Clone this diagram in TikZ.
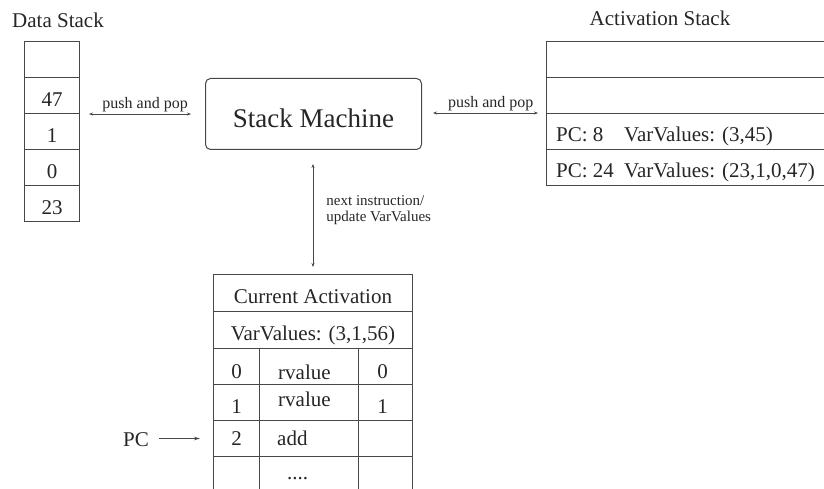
\documentclass[tikz,border=0pt]{standalone}
\usepackage{fontspec}
\setmainfont{Liberation Serif}
\usetikzlibrary{arrows.meta}

\begin{document}
\begin{tikzpicture}[x=1pt, y=-1pt,
  ink/.style={draw=black!72, line width=1pt},
  txt/.style={text=black!85, inner sep=0pt, font=\fontsize{21}{25}\selectfont},
  cell/.style={ink, txt, rectangle, anchor=north west, text height=22pt, text depth=0pt},
  rowcell/.style={ink, rectangle, inner sep=0pt, anchor=north west},
  machine/.style={ink, rectangle, rounded corners=5pt, inner sep=0pt, anchor=north west,
    minimum width=216pt, minimum height=71pt, text=black!85,
    font=\fontsize{27}{32}\selectfont, text height=27pt, text depth=0pt},
  small/.style={text=black!85, inner sep=0pt, font=\fontsize{16}{18}\selectfont},
  tiny/.style={text=black!85, inner sep=0pt, font=\fontsize{15}{16}\selectfont, align=left},
  tipS/.tip={Stealth[length=4pt, width=3pt]},
  both/.style={draw=black!72, line width=0.9pt, tipS-tipS},
  pcarrow/.style={draw=black!72, line width=0.9pt, -{Stealth[length=6pt, width=3.5pt]}}
]
\useasboundingbox (0,0) rectangle (824,489);

% ---- data stack ----
\node[txt, anchor=base west] (dstitle) at (12,28) {Data Stack};
\node[cell, minimum width=55pt, minimum height=36pt] (d0) at (24,41)  {};
\node[cell, minimum width=55pt, minimum height=36pt] (d1) at (24,77)  {47};
\node[cell, minimum width=55pt, minimum height=36pt] (d2) at (24,113) {1};
\node[cell, minimum width=55pt, minimum height=36pt] (d3) at (24,149) {0};
\node[cell, minimum width=55pt, minimum height=36pt] (d4) at (24,185) {23};

% ---- stack machine ----
\node[machine] (sm) at (205,78) {Stack Machine};

% ---- activation stack ----
\node[txt, anchor=base] (astitle) at (660,26) {Activation Stack};
\node[rowcell, minimum width=290pt, minimum height=36pt] (a0) at (546,41)  {};
\node[rowcell, minimum width=290pt, minimum height=36pt] (a1) at (546,77)  {};
\node[rowcell, minimum width=290pt, minimum height=36pt] (a2) at (546,113) {};
\node[rowcell, minimum width=290pt, minimum height=36pt] (a3) at (546,149) {};
\node[txt, anchor=base west] (a2pc) at ([xshift=10pt, yshift=-10.5pt]a2.west) {PC: 8};
\node[txt, anchor=base west] (a2vv) at ([xshift=78pt, yshift=-10.5pt]a2.west) {VarValues: (3,45)};
\node[txt, anchor=base west] (a3pc) at ([xshift=10pt, yshift=-10pt]a3.west) {PC: 24};
\node[txt, anchor=base west] (a3vv) at ([xshift=78pt, yshift=-10pt]a3.west) {VarValues: (23,1,0,47)};

% ---- current activation ----
\node[cell, minimum width=199pt, minimum height=37pt, text height=21pt] (cah) at (213,274) {Current Activation};
\node[cell, minimum width=199pt, minimum height=37pt, text height=21pt] (cav) at (213,311) {VarValues: (3,1,56)};

\foreach \r/\y/\h in {0/348/36, 1/384/36, 2/420/36, 3/456/44} {
  \node[rowcell, minimum width=46pt, minimum height=\h pt] (c\r a) at (213,\y) {};
  \node[rowcell, minimum width=99pt, minimum height=\h pt] (c\r b) at (259,\y) {};
  \node[rowcell, minimum width=54pt, minimum height=\h pt] (c\r c) at (358,\y) {};
}

\node[txt, anchor=base] (n0a) at ([yshift=-11.5pt]c0a.center) {0};
\node[txt, anchor=base west] (n0b) at ([xshift=19pt, yshift=-13pt]c0b.west) {rvalue};
\node[txt, anchor=base] (n0c) at ([xshift=-3pt, yshift=-11.5pt]c0c.center) {0};

\node[txt, anchor=base] (n1a) at ([yshift=-10.5pt]c1a.center) {1};
\node[txt, anchor=base west] (n1b) at ([xshift=19pt, yshift=-4pt]c1b.west) {rvalue};
\node[txt, anchor=base] (n1c) at ([xshift=-3pt, yshift=-10.5pt]c1c.center) {1};

\node[txt, anchor=base] (n2a) at ([yshift=-7pt]c2a.center) {2};
\node[txt, anchor=base west] (n2b) at ([xshift=18pt, yshift=-7pt]c2b.west) {add};

\node[txt, anchor=base west] (n3b) at ([xshift=28pt, yshift=-23pt]c3b.north west) {....};

% ---- program counter ----
\node[txt, anchor=base west] (pc) at (123,446) {PC};
\draw[pcarrow] ([xshift=10pt]pc.east |- c2a.west) -- ([xshift=-13pt]c2a.west);

% ---- connectors ----
\draw[both] ([xshift=9pt]d1.south east) -- ([xshift=-14pt]sm.west |- d1.south east)
  node[small, pos=0.55, anchor=base, yshift=5pt] {push and pop};
\draw[both] ([xshift=11pt]sm.east |- a2.north west) -- ([xshift=-8pt]a2.north west)
  node[small, pos=0.55, anchor=base, yshift=5pt] {push and pop};
\draw[both] ([yshift=-14pt]sm.south -| cah.north) -- ([yshift=7pt]cah.north)
  node[tiny, pos=0.3, anchor=north west, xshift=13pt] {next instruction/\\update VarValues};

\end{tikzpicture}
\end{document}
